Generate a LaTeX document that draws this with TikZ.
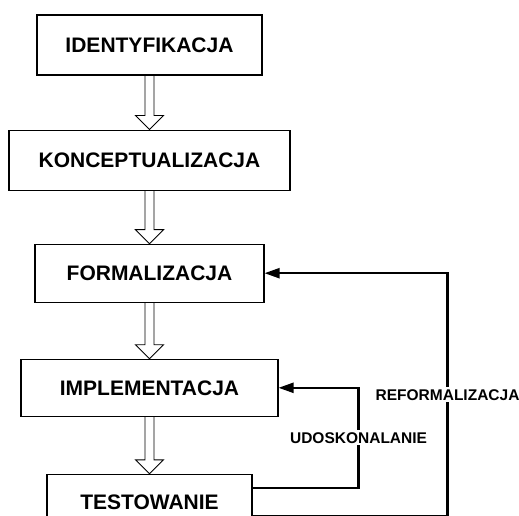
\documentclass[tikz,border=0pt]{standalone}
\usepackage{fontspec}
\setmainfont{Liberation Sans}
\usetikzlibrary{arrows.meta,calc,positioning}
% hollow block arrow from the bottom of one stage to the top of the next
\newcommand{\hollowarrow}[2]{%
  \draw[fat] ($(#1.south)+(-4.5,0)$) -- ($(#2.north)+(-4.5,14)$) -- ($(#2.north)+(-14,14)$) -- (#2.north)
    -- ($(#2.north)+(14,14)$) -- ($(#2.north)+(4.5,14)$) -- ($(#1.south)+(4.5,0)$);}

\begin{document}
\begin{tikzpicture}[x=1pt,y=1pt,% styles for the whole picture
			every node/.style={
				align=center,
				font=\bfseries\fontsize{21}{25}\selectfont
			},
			stage/.style={rectangle,draw=black,line width=1.1pt,inner sep=0pt},
			fat/.style={draw,line width=0.9pt,line join=miter},
			fb/.style={draw,line width=2.2pt,-{Triangle[length=15pt,width=10pt]}},
			fblabel/.style={fill=white,inner sep=2pt,font=\bfseries\fontsize{15.5}{18}\selectfont}
		]
		\useasboundingbox (0,0) rectangle (519,-516);
		\node[stage,minimum width=225pt,minimum height=60pt](ident) at (149.5,-45){IDENTYFIKACJA};
		\node[stage,minimum width=281pt,minimum height=60pt](konc)[below=54pt of ident]{KONCEPTUALIZACJA};
		\node[stage,minimum width=229pt,minimum height=58pt](form)[below=53pt of konc]{FORMALIZACJA};
		\node[stage,minimum width=257pt,minimum height=57pt](impl)[below=56pt of form]{IMPLEMENTACJA};
		\node[stage,minimum width=205pt,minimum height=55pt](test)[below=57pt of impl]{TESTOWANIE};
		\hollowarrow{ident}{konc}
		\hollowarrow{konc}{form}
		\hollowarrow{form}{impl}
		\hollowarrow{impl}{test}
		% feedback loops
		\path[fb] ([yshift=14]test.east) -- ++(106,0) |- node[pos=0.25,fblabel]{UDOSKONALANIE} (impl.east);
		\path[fb] ([yshift=-14.5]test.east) -- ++(195,0) |- node[pos=0.25,fblabel]{REFORMALIZACJA} (form.east);
	\end{tikzpicture}
\end{document}
